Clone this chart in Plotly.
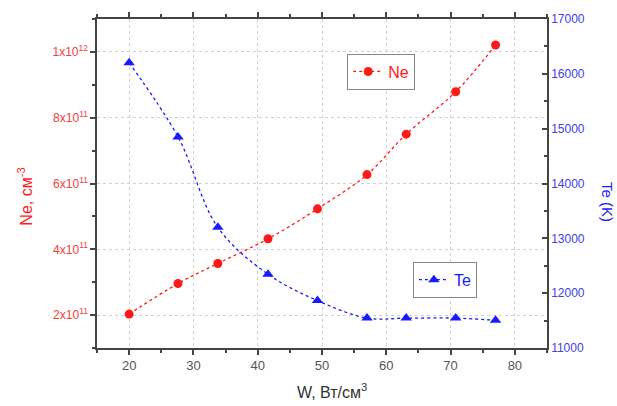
import plotly.graph_objects as go

# Specific power W, W/cm^3
w = [20, 27.6, 33.8, 41.6, 49.3, 57.0, 63.1, 70.8, 77.0]
# Electron density Ne, cm^-3
ne = [2.03e11, 2.96e11, 3.57e11, 4.32e11, 5.23e11, 6.27e11, 7.5e11, 8.79e11, 1.021e12]
# Electron temperature Te, K
te = [16200, 14850, 13200, 12345, 11865, 11545, 11545, 11545, 11505]

ne_ticks = [2e11, 4e11, 6e11, 8e11, 1e12]
ne_ticktext = ["2x10<sup>11</sup>", "4x10<sup>11</sup>", "6x10<sup>11</sup>",
               "8x10<sup>11</sup>", "1x10<sup>12</sup>"]

RED = "#ff1a1a"
BLUE = "#1a1aff"
AX = "#444444"
FONT = "Liberation Sans, Arial, sans-serif"

fig = go.Figure()
fig.add_trace(go.Scatter(
    x=w, y=ne, name="Ne", mode="lines+markers",
    line=dict(color=RED, dash="dot", width=1.3, shape="spline"),
    marker=dict(symbol="circle", size=9, color=RED),
    legend="legend", showlegend=True,
))
fig.add_trace(go.Scatter(
    x=w, y=te, name="Te", mode="lines+markers", yaxis="y2",
    line=dict(color=BLUE, dash="dot", width=1.3, shape="spline"),
    marker=dict(symbol="triangle-up", size=10, color=BLUE),
    legend="legend2", showlegend=True,
))

fig.update_layout(
    width=617, height=406,
    margin=dict(l=97, r=70, t=15, b=58),
    paper_bgcolor="white", plot_bgcolor="white",
    font=dict(family=FONT),
    showlegend=True,
    xaxis=dict(
        range=[15, 85], tick0=0, dtick=10,
        showline=True, linecolor=AX, linewidth=1.5, mirror="ticks",
        ticks="outside", ticklen=5, tickcolor=AX, tickwidth=1.5,
        tickfont=dict(size=13, color="#555555"),
        showgrid=True, gridcolor="#d0d0d0", griddash="dot", gridwidth=1,
        zeroline=False,
        minor=dict(tick0=0, dtick=5, ticks="outside", ticklen=3, tickcolor=AX, showgrid=False),
    ),
    yaxis=dict(
        range=[1e11, 1.1e12], tickmode="array", tickvals=ne_ticks, ticktext=ne_ticktext,
        showline=True, linecolor=AX, linewidth=1.5,
        ticks="outside", ticklen=5, tickcolor=AX, tickwidth=1.5,
        tickfont=dict(size=12, color="#f04040"),
        showgrid=True, gridcolor="#d0d0d0", griddash="dot", gridwidth=1,
        zeroline=False,
        minor=dict(tick0=0, dtick=1e11, ticks="outside", ticklen=3, tickcolor=AX, showgrid=False),
    ),
    yaxis2=dict(
        overlaying="y", side="right", range=[11000, 17000], dtick=1000, tick0=0,
        tickformat="d",
        showline=True, linecolor=AX, linewidth=1.5,
        ticks="inside", ticklen=5, tickcolor=AX, tickwidth=1.5,
        tickfont=dict(size=12, color="#4040ee"),
        showgrid=False, zeroline=False,
        minor=dict(tick0=0, dtick=500, ticks="inside", ticklen=3, tickcolor=AX, showgrid=False),
    ),
    legend=dict(
        x=0.556, y=0.895, xanchor="left", yanchor="top",
        bordercolor="#888888", borderwidth=1, bgcolor="white",
        font=dict(size=16, color=RED),
        tracegroupgap=0, itemwidth=30,
    ),
    legend2=dict(
        x=0.702, y=0.262, xanchor="left", yanchor="top",
        bordercolor="#888888", borderwidth=1, bgcolor="white",
        font=dict(size=16, color=BLUE),
        tracegroupgap=0, itemwidth=30,
    ),
    annotations=[
        dict(text="Ne, см<sup>-3</sup>", textangle=-90, xref="paper", yref="paper",
             x=-0.16, y=0.46, showarrow=False, font=dict(size=16, color=RED),
             xanchor="center", yanchor="middle"),
        dict(text="Te (K)", textangle=90, xref="paper", yref="paper",
             x=1.133, y=0.444, showarrow=False, font=dict(size=15, color=BLUE),
             xanchor="center", yanchor="middle"),
        dict(text="W, Вт/см<sup>3</sup>", xref="paper", yref="paper",
             x=0.522, y=-0.132, showarrow=False, font=dict(size=16, color="#333333"),
             xanchor="center", yanchor="middle"),
    ],
)

fig.write_html("out.html")
